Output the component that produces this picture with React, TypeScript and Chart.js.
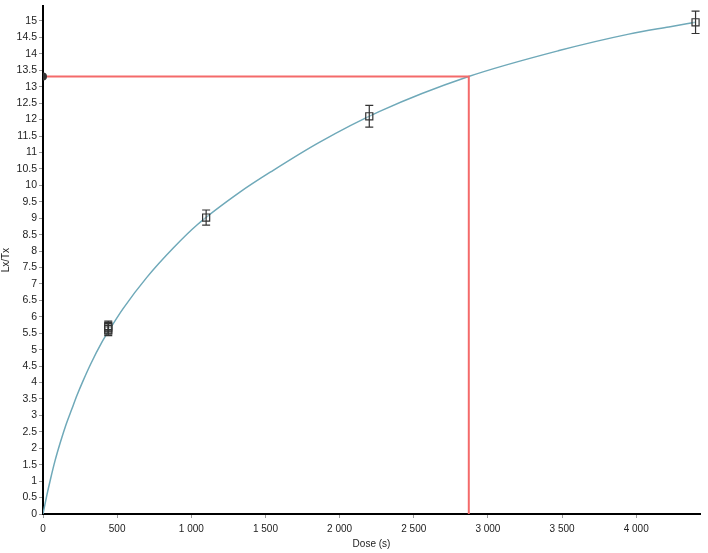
import { useEffect, useRef } from "react";
import { Chart, registerables, ChartConfiguration, Plugin } from "chart.js";

Chart.register(...registerables);

// fitted growth curve
const CURVE_DOSE = [0, 25, 50, 80, 115, 150, 195, 230, 270, 320, 400, 440, 540, 700, 880, 1040, 1330, 1550, 1860, 2270, 2870, 3480, 3950, 4220, 4400];
const CURVE_LXTX = [0, 0.55, 1.05, 1.6, 2.15, 2.65, 3.2, 3.62, 4.05, 4.55, 5.25, 5.55, 6.25, 7.2, 8.1, 8.8, 9.8, 10.45, 11.3, 12.25, 13.31, 14.1, 14.6, 14.82, 14.96];

// measured points with errors
const POINT_DOSE = [440, 440, 440, 1100, 2200, 4400];
const POINT_LXTX = [5.58, 5.65, 5.72, 9.02, 12.1, 14.96];
const POINT_ERR = [0.15, 0.15, 0.15, 0.23, 0.33, 0.34];

// interpolated De
const DE_DOSE = 2871;
const DE_LXTX = 13.31;

// tick values
const X_TICKS = [0, 500, 1000, 1500, 2000, 2500, 3000, 3500, 4000];
const Y_TICKS = [0, 0.5, 1, 1.5, 2, 2.5, 3, 3.5, 4, 4.5, 5, 5.5, 6, 6.5, 7, 7.5, 8, 8.5, 9, 9.5, 10, 10.5, 11, 11.5, 12, 12.5, 13, 13.5, 14, 14.5, 15];

const FAMILY = "'Liberation Sans', Arial, sans-serif";
const X_FONT = { family: FAMILY, size: 10 };
const Y_FONT = { family: FAMILY, size: 10.5 };

const fmtThousands = (v: number) =>
  Math.round(v).toString().replace(/\B(?=(\d{3})+(?!\d))/g, " ");

const errorBars: Plugin = {
  id: "errorBars",
  afterDatasetsDraw(chart) {
    const { ctx } = chart;
    const xs = chart.scales.x;
    const ys = chart.scales.y;
    ctx.save();
    ctx.strokeStyle = "#333";
    ctx.lineWidth = 1.2;
    POINT_DOSE.forEach((d, i) => {
      const px = xs.getPixelForValue(d);
      const top = ys.getPixelForValue(POINT_LXTX[i] + POINT_ERR[i]);
      const bot = ys.getPixelForValue(POINT_LXTX[i] - POINT_ERR[i]);
      ctx.beginPath();
      ctx.moveTo(px, top);
      ctx.lineTo(px, bot);
      ctx.moveTo(px - 4, top);
      ctx.lineTo(px + 4, top);
      ctx.moveTo(px - 4, bot);
      ctx.lineTo(px + 4, bot);
      ctx.stroke();
    });
    ctx.restore();
  },
};

export default function App() {
  const canvasRef = useRef<HTMLCanvasElement>(null);
  const chartRef = useRef<Chart | null>(null);

  useEffect(() => {
    if (!canvasRef.current) return;
    if (chartRef.current) chartRef.current.destroy();

    const config: ChartConfiguration = {
      type: "scatter",
      data: {
        datasets: [
          {
            label: "De",
            data: [
              { x: 0, y: DE_LXTX },
              { x: DE_DOSE, y: DE_LXTX },
              { x: DE_DOSE, y: 0 },
            ],
            showLine: true,
            borderColor: "#f46a6a",
            borderWidth: 2,
            pointRadius: [3, 0, 0],
            pointBackgroundColor: "#333",
            pointBorderColor: "#333",
            tension: 0,
            order: 2,
          },
          {
            label: "Fit",
            data: CURVE_DOSE.map((x, i) => ({ x, y: CURVE_LXTX[i] })),
            showLine: true,
            borderColor: "#6fa9b9",
            borderWidth: 1.5,
            pointRadius: 0,
            cubicInterpolationMode: "monotone",
            order: 3,
          },
          {
            label: "Points",
            data: POINT_DOSE.map((x, i) => ({ x, y: POINT_LXTX[i] })),
            showLine: false,
            pointStyle: "rect",
            pointRadius: 5,
            pointBorderWidth: 1.2,
            pointBorderColor: "#333",
            pointBackgroundColor: "rgba(255,255,255,0.3)",
            order: 1,
          },
        ],
      },
      options: {
        responsive: true,
        maintainAspectRatio: false,
        animation: false,
        layout: { padding: { top: 3, right: 8, left: 0, bottom: 0 } },
        plugins: {
          legend: { display: false },
          tooltip: { enabled: false },
        },
        scales: {
          x: {
            type: "linear",
            min: 0,
            max: 4430,
            afterBuildTicks: (scale) => {
              scale.ticks = X_TICKS.map((value) => ({ value }));
            },
            afterFit: (scale) => {
              scale.height = 39;
              scale.paddingLeft = 0;
              scale.paddingRight = 0;
            },
            ticks: {
              font: X_FONT,
              color: "#222",
              padding: 5,
              maxRotation: 0,
              autoSkip: false,
              callback: (v) => fmtThousands(Number(v)),
            },
            grid: { drawOnChartArea: false, drawTicks: true, tickLength: 4, tickColor: "#999" },
            border: { color: "#000", width: 2 },
            title: { display: true, text: "Dose (s)", font: X_FONT, color: "#222", padding: { top: 0, bottom: 3 } },
          },
          y: {
            type: "linear",
            min: 0,
            max: 15.45,
            afterBuildTicks: (scale) => {
              scale.ticks = Y_TICKS.map((value) => ({ value }));
            },
            afterFit: (scale) => {
              scale.width = 43;
              scale.paddingTop = 0;
              scale.paddingBottom = 0;
            },
            ticks: {
              font: Y_FONT,
              color: "#222",
              padding: 2,
              autoSkip: false,
              callback: (v) => String(v),
            },
            grid: { drawOnChartArea: false, drawTicks: true, tickLength: 4, tickColor: "#999" },
            border: { color: "#000", width: 2 },
            title: { display: true, text: "Lx/Tx", font: X_FONT, color: "#222", padding: { top: 0, bottom: 0 } },
          },
        },
      },
      plugins: [errorBars],
    };

    chartRef.current = new Chart(canvasRef.current, config);
    return () => {
      if (chartRef.current) {
        chartRef.current.destroy();
        chartRef.current = null;
      }
    };
  }, []);

  return (
    <div style={{ position: "fixed", left: 0, top: 0, width: 708, height: 553, background: "#fff" }}>
      <canvas ref={canvasRef} />
    </div>
  );
}
